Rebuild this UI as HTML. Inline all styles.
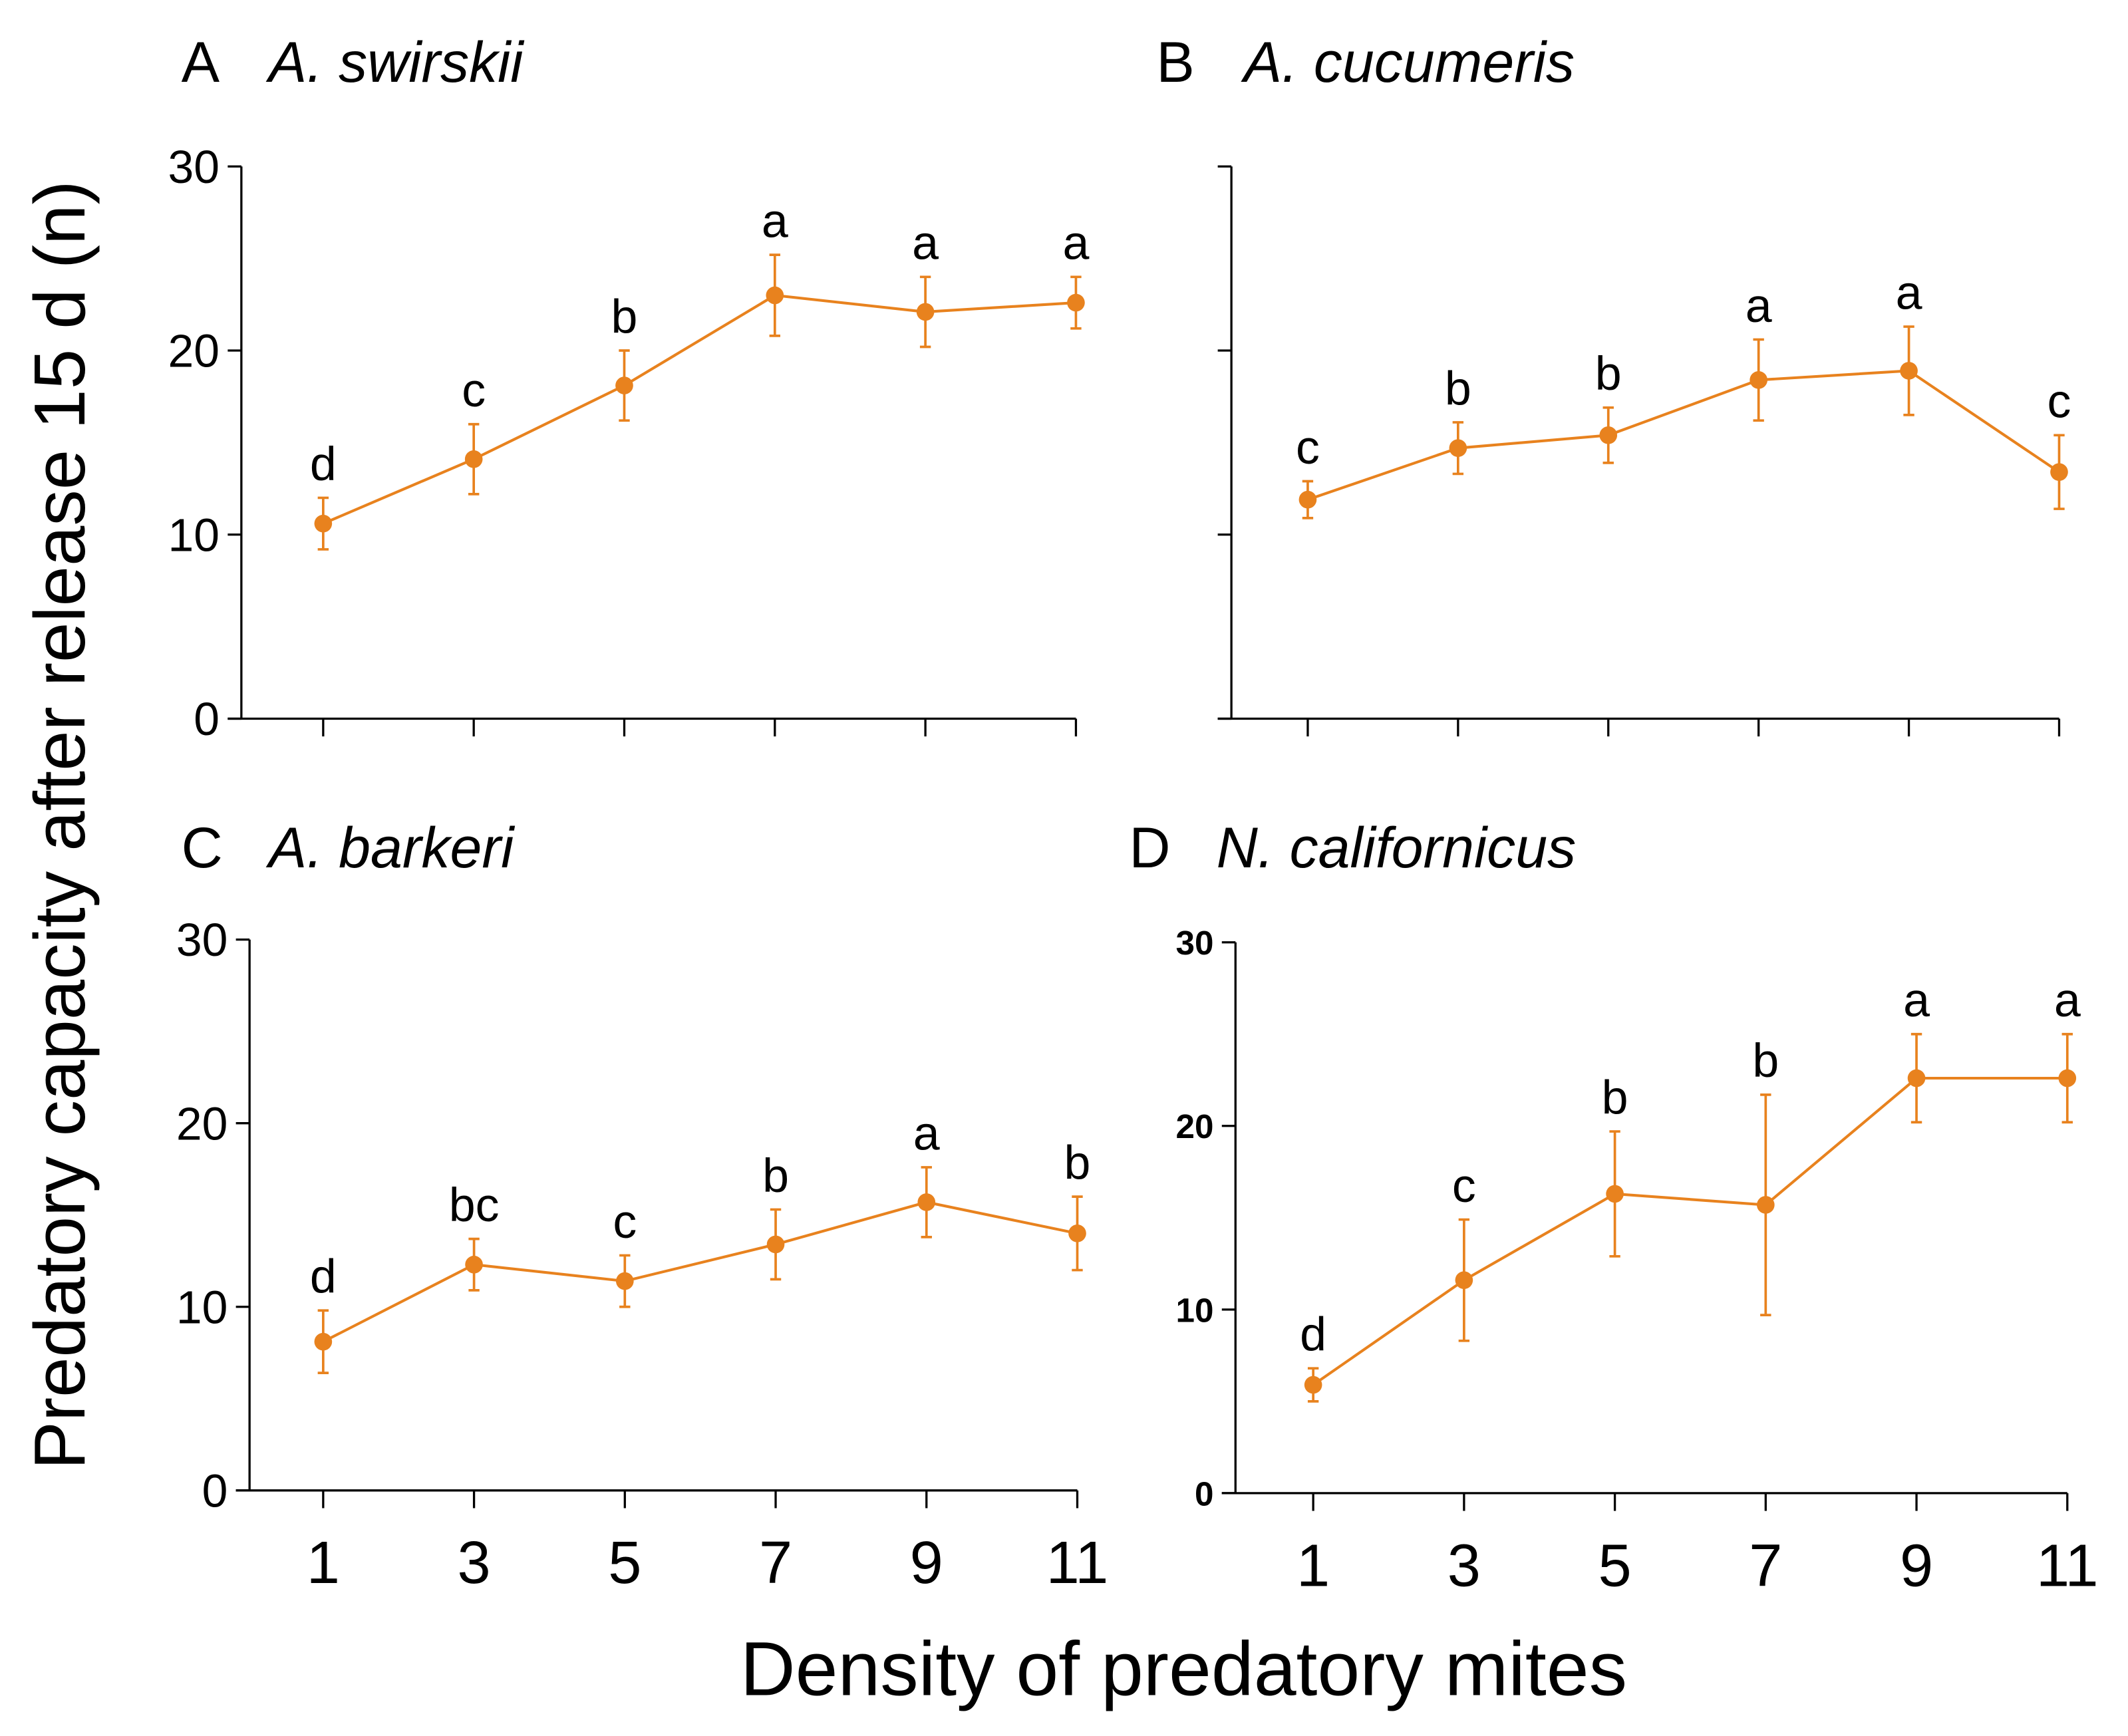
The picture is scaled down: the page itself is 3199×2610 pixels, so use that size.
<!DOCTYPE html>
<html><head><meta charset="utf-8"><style>
html,body{margin:0;padding:0;background:#fff;}
svg{display:block;font-family:"Liberation Sans",Arial,sans-serif;}
</style></head><body>
<svg id="fig" width="3199" height="2610" viewBox="0 0 1560.5 1273" xmlns="http://www.w3.org/2000/svg">
<text x="62" y="605" font-size="53" text-anchor="middle" transform="rotate(-90 62 605)">Predatory capacity after release 15 d (n)</text>
<text x="868" y="1243" font-size="56" text-anchor="middle">Density of predatory mites</text>
<g id="plots"></g>
</svg>
<script>
const categories = [1, 3, 5, 7, 9, 11];
const yTicks = [0, 10, 20, 30];
const meansA = [10.6, 14.1, 18.1, 23.0, 22.1, 22.6];
const errA = [1.4, 1.9, 1.9, 2.2, 1.9, 1.4];
const lettersA = ['d','c','b','a','a','a'];
const meansB = [11.9, 14.7, 15.4, 18.4, 18.9, 13.4];
const errB = [1.0, 1.4, 1.5, 2.2, 2.4, 2.0];
const lettersB = ['c','b','b','a','a','c'];
const meansC = [8.1, 12.3, 11.4, 13.4, 15.7, 14.0];
const errC = [1.7, 1.4, 1.4, 1.9, 1.9, 2.0];
const lettersC = ['d','bc','c','b','a','b'];
const meansD = [5.9, 11.6, 16.3, 15.7, 22.6, 22.6];
const errD = [0.9, 3.3, 3.4, 6.0, 2.4, 2.4];
const lettersD = ['d','c','b','b','a','a'];

const NS = 'http://www.w3.org/2000/svg';
const root = document.getElementById('plots');
function mk(tag, attrs, parent){ const e=document.createElementNS(NS,tag); for(const k in attrs) e.setAttribute(k,attrs[k]); parent.appendChild(e); return e; }
const C = '#E8821E';

function panel(cfg){
  const g = mk('g',{},root);
  
  
  const ys = v => cfg.y0 - (v/30)*(cfg.y0-cfg.y30);
  const xs = c => cfg.x1 + (c-1)/10*(cfg.x11-cfg.x1);
  const t = mk('text',{x:cfg.tx,y:cfg.ty,'font-size':42},g);
  
  
  t.textContent = cfg.id;
  const t2 = mk('text',{x:cfg.tx+64,y:cfg.ty,'font-size':42,'font-style':'italic'},g);
  
  
  t2.textContent = cfg.title;
  const ya = mk('line',{x1:cfg.ax,y1:ys(30),x2:cfg.ax,y2:ys(0),stroke:'#000','stroke-width':1.6},g);
  
  
  const xa = mk('line',{x1:cfg.ax-10,y1:ys(0),x2:xs(11),y2:ys(0),stroke:'#000','stroke-width':1.6},g);
  
  
  yTicks.forEach(v=>{
    const tk = mk('line',{x1:cfg.ax-10,y1:ys(v),x2:cfg.ax,y2:ys(v),stroke:'#000','stroke-width':1.6},g);
    
    
    if(cfg.ylab){
      const l = mk('text',{x:cfg.ax-16,y:ys(v)+(cfg.bold?9:12),'font-size':cfg.bold?25:34,'text-anchor':'end','font-weight':cfg.bold?'bold':'normal'},g);
      l.textContent = v;
      
      
    }
  });
  categories.forEach(c=>{
    const tk = mk('line',{x1:xs(c),y1:ys(0),x2:xs(c),y2:ys(0)+13,stroke:'#000','stroke-width':1.6},g);
    
    
    if(cfg.xlab){
      const l = mk('text',{x:xs(c),y:ys(0)+68,'font-size':44,'text-anchor':'middle'},g);
      l.textContent = c;
      
      
    }
  });
  const pts = categories.map((c,i)=>xs(c)+','+ys(cfg.m[i])).join(' ');
  const pl = mk('polyline',{points:pts,fill:'none',stroke:C,'stroke-width':2},g);
  
  
  categories.forEach((c,i)=>{
    const x = xs(c), hi = ys(cfg.m[i]+cfg.e[i]), lo = ys(cfg.m[i]-cfg.e[i]);
    const eb = mk('path',{d:`M${x},${hi}V${lo}M${x-4},${hi}H${x+4}M${x-4},${lo}H${x+4}`,stroke:C,'stroke-width':1.8,fill:'none'},g);
    
    
    const p = mk('circle',{cx:x,cy:ys(cfg.m[i]),r:6.5,fill:C},g);
    
    
    const l = mk('text',{x:x,y:hi-13,'font-size':35,'text-anchor':'middle'},g);
    l.textContent = cfg.l[i];
    
    
  });
}
panel({id:'A',title:'A. swirskii',tx:133,ty:60,ax:177,y30:122,y0:527,x1:237,x11:789,m:meansA,e:errA,l:lettersA,ylab:true,xlab:false});
panel({id:'B',title:'A. cucumeris',tx:848,ty:60,ax:903,y30:122,y0:527,x1:959,x11:1510,m:meansB,e:errB,l:lettersB,ylab:false,xlab:false});
panel({id:'C',title:'A. barkeri',tx:133,ty:636,ax:183,y30:689,y0:1093,x1:237,x11:790,m:meansC,e:errC,l:lettersC,ylab:true,xlab:true});
panel({id:'D',title:'N. californicus',tx:828,ty:636,ax:906,y30:691,y0:1095,x1:963,x11:1516,m:meansD,e:errD,l:lettersD,ylab:true,xlab:true,bold:true});
</script>
</body></html>
